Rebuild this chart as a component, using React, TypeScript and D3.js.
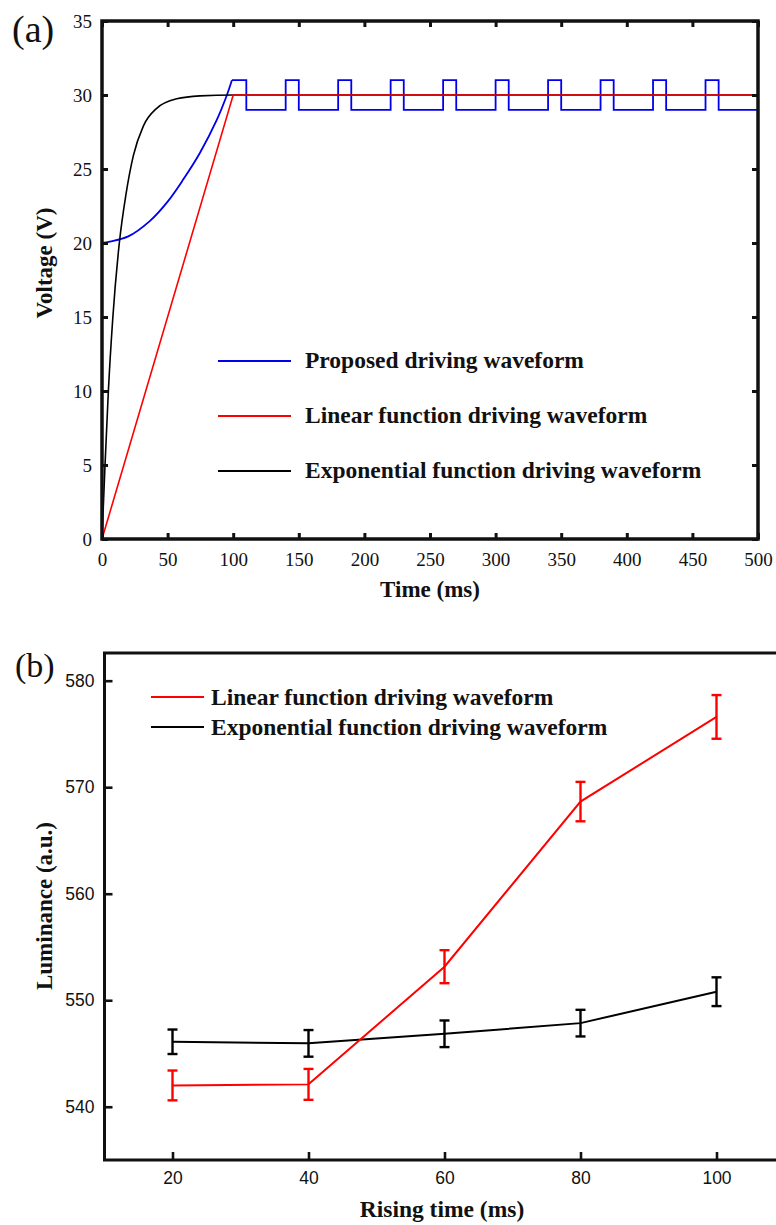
import React from 'react';
import * as d3 from 'd3';

// ---- panel (a) data ----
const timeTicks = [0, 50, 100, 150, 200, 250, 300, 350, 400, 450, 500];
const voltTicks = [0, 5, 10, 15, 20, 25, 30, 35];

// blue rise, then square pulses
const proposedRise = [
  [0, 20], [6, 20.1], [20, 20.45], [36.6, 21.5], [50.5, 22.85],
  [62, 24.3], [74.7, 26.1], [87.4, 28.3], [95, 29.95], [99, 31],
];
const pulseStarts = [140, 180, 220, 260, 300, 340, 380, 420, 460];
const pulseWidth = 10;
const pulseHigh = 31;
const pulseLow = 29;
const firstPulseEnd = 110;

const linearWave = [[0, 0], [100, 30], [500, 30]];

const expWave = [
  [0, 0], [2.3, 5.0], [4.8, 9.9], [8.2, 14.9], [13.2, 20.0], [18.3, 23.3],
  [23.9, 25.9], [31.5, 27.9], [41.7, 29.1], [56.9, 29.74], [74.7, 29.94],
  [100, 30], [500, 30],
];

const legendA = [
  { label: 'Proposed driving waveform', color: '#0000ee' },
  { label: 'Linear function driving waveform', color: '#ff0000' },
  { label: 'Exponential function driving waveform', color: '#000000' },
];

// ---- panel (b) data ----
const risingTimes = [20, 40, 60, 80, 100];
const lumLinear = [542.0, 542.1, 553.15, 568.65, 576.6];
const lumLinearErr = [1.4, 1.45, 1.55, 1.85, 2.05];
const lumExp = [546.1, 545.95, 546.85, 547.85, 550.8];
const lumExpErr = [1.15, 1.25, 1.25, 1.25, 1.35];
const lumTicks = [540, 550, 560, 570, 580];

const legendB = [
  { label: 'Linear function driving waveform', color: '#ff0000' },
  { label: 'Exponential function driving waveform', color: '#000000' },
];

const SERIF = '"Liberation Serif", "Times New Roman", serif';
const SANS = '"Liberation Sans", Arial, sans-serif';

const Chart = () => {
  const svgRef = React.useRef<SVGSVGElement>(null);

  React.useEffect(() => {
    const svg = d3.select(svgRef.current);
    svg.selectAll('*').remove();

    // ================= panel (a) =================
    const x = d3.scaleLinear().domain([0, 500]).range([102, 758]);
    const y = d3.scaleLinear().domain([0, 35]).range([539, 21]);
    const ga = svg.append('g');

    const line = d3.line<number[]>().x(d => x(d[0])).y(d => y(d[1]));
    const monotone = d3.line<number[]>().x(d => x(d[0])).y(d => y(d[1])).curve(d3.curveMonotoneX);
    const smooth = d3.line<number[]>().x(d => x(d[0])).y(d => y(d[1])).curve(d3.curveCatmullRom.alpha(0.5));

    // step part of proposed waveform
    const steps: number[][] = [[99, pulseHigh], [firstPulseEnd, pulseHigh], [firstPulseEnd, pulseLow]];
    pulseStarts.forEach(s => {
      steps.push([s, pulseLow], [s, pulseHigh], [s + pulseWidth, pulseHigh], [s + pulseWidth, pulseLow]);
    });
    steps.push([500, pulseLow]);

    ga.append('path').attr('d', smooth(proposedRise)).attr('fill', 'none')
      .attr('stroke', '#0000ee').attr('stroke-width', 1.8);
    ga.append('path').attr('d', line(steps)).attr('fill', 'none')
      .attr('stroke', '#0000ee').attr('stroke-width', 1.8);
    ga.append('path').attr('d', monotone(expWave)).attr('fill', 'none')
      .attr('stroke', '#000').attr('stroke-width', 1.6);
    ga.append('path').attr('d', line(linearWave)).attr('fill', 'none')
      .attr('stroke', '#ff0000').attr('stroke-width', 1.6);

    // axes, ticks pointing in
    const styleAxis = (g, fontFamily, size, tickW) => {
      g.attr('font-family', null).attr('font-size', null);
      g.select('.domain').remove();
      g.selectAll('.tick line').attr('stroke', '#111').attr('stroke-width', tickW);
      g.selectAll('.tick text').attr('fill', '#111')
        .style('font-family', fontFamily).style('font-size', size + 'px');
    };
    ga.append('g').attr('transform', 'translate(0,539)')
      .call(d3.axisBottom(x).tickValues(timeTicks).tickSize(-6).tickPadding(14).tickFormat(d3.format('d')))
      .call(g => styleAxis(g, SERIF, 19, 3));
    ga.append('g').attr('transform', 'translate(0,21)')
      .call(d3.axisTop(x).tickValues(timeTicks).tickSize(-6).tickFormat(() => ''))
      .call(g => styleAxis(g, SERIF, 19, 3));
    ga.append('g').attr('transform', 'translate(102,0)')
      .call(d3.axisLeft(y).tickValues(voltTicks).tickSize(-6).tickPadding(10).tickFormat(d3.format('d')))
      .call(g => styleAxis(g, SERIF, 19, 3));
    ga.append('g').attr('transform', 'translate(758,0)')
      .call(d3.axisRight(y).tickValues(voltTicks).tickSize(-6).tickFormat(() => ''))
      .call(g => styleAxis(g, SERIF, 19, 3));
    ga.append('rect').attr('x', 102).attr('y', 21).attr('width', 656).attr('height', 518)
      .attr('fill', 'none').attr('stroke', '#111').attr('stroke-width', 3.5);

    // legend (a)
    legendA.forEach((d, i) => {
      const ly = 361 + i * 55;
      ga.append('line').attr('x1', 218).attr('x2', 291).attr('y1', ly).attr('y2', ly)
        .attr('stroke', d.color).attr('stroke-width', 1.8);
      ga.append('text').attr('x', 305).attr('y', ly + 7).text(d.label)
        .style('font-family', SERIF).style('font-weight', 'bold').style('font-size', '23.5px').attr('fill', '#111');
    });

    ga.append('text').attr('x', 430).attr('y', 597).attr('text-anchor', 'middle').text('Time (ms)')
      .style('font-family', SERIF).style('font-weight', 'bold').style('font-size', '23px').attr('fill', '#111');
    ga.append('text').attr('transform', 'translate(52,263) rotate(-90)').attr('text-anchor', 'middle')
      .text('Voltage (V)')
      .style('font-family', SERIF).style('font-weight', 'bold').style('font-size', '23px').attr('fill', '#111');
    ga.append('text').attr('x', 12).attr('y', 42).text('(a)')
      .style('font-family', SERIF).style('font-size', '38px').attr('fill', '#111');

    // ================= panel (b) =================
    const xb = d3.scaleLinear().domain([10, 110]).range([104.5, 784.5]);
    const yb = d3.scaleLinear().domain([535, 582.6]).range([1160, 653]);
    const gb = svg.append('g');

    gb.append('g').attr('transform', 'translate(0,1160)')
      .call(d3.axisBottom(xb).tickValues(risingTimes).tickSize(-8).tickPadding(12).tickFormat(d3.format('d')))
      .call(g => styleAxis(g, SANS, 17.5, 2.6));
    gb.append('g').attr('transform', 'translate(104.5,0)')
      .call(d3.axisLeft(yb).tickValues(lumTicks).tickSize(-8).tickPadding(10).tickFormat(d3.format('d')))
      .call(g => styleAxis(g, SANS, 17.5, 2.6));
    gb.append('rect').attr('x', 104.5).attr('y', 653).attr('width', 680).attr('height', 507)
      .attr('fill', 'none').attr('stroke', '#111').attr('stroke-width', 3);

    const series = [
      { vals: lumExp, errs: lumExpErr, color: '#000000' },
      { vals: lumLinear, errs: lumLinearErr, color: '#ff0000' },
    ];
    const lineB = d3.line<number>().x((_, i) => xb(risingTimes[i])).y(d => yb(d));
    series.forEach(s => {
      gb.append('path').attr('d', lineB(s.vals)).attr('fill', 'none')
        .attr('stroke', s.color).attr('stroke-width', 2);
      const eb = gb.append('g').attr('stroke', s.color).attr('stroke-width', 2.4);
      s.vals.forEach((v, i) => {
        const cx = xb(risingTimes[i]);
        const top = yb(v + s.errs[i]);
        const bot = yb(v - s.errs[i]);
        eb.append('line').attr('x1', cx).attr('x2', cx).attr('y1', top).attr('y2', bot);
        eb.append('line').attr('x1', cx - 5).attr('x2', cx + 5).attr('y1', top).attr('y2', top);
        eb.append('line').attr('x1', cx - 5).attr('x2', cx + 5).attr('y1', bot).attr('y2', bot);
      });
    });

    legendB.forEach((d, i) => {
      const ly = 697 + i * 30;
      gb.append('line').attr('x1', 151).attr('x2', 204).attr('y1', ly).attr('y2', ly)
        .attr('stroke', d.color).attr('stroke-width', 2);
      gb.append('text').attr('x', 211).attr('y', ly + 8).text(d.label)
        .style('font-family', SERIF).style('font-weight', 'bold').style('font-size', '23.5px').attr('fill', '#111');
    });

    gb.append('text').attr('x', 442).attr('y', 1217).attr('text-anchor', 'middle').text('Rising time (ms)')
      .style('font-family', SERIF).style('font-weight', 'bold').style('font-size', '23.5px').attr('fill', '#111');
    gb.append('text').attr('transform', 'translate(52,906) rotate(-90)').attr('text-anchor', 'middle')
      .text('Luminance (a.u.)')
      .style('font-family', SERIF).style('font-weight', 'bold').style('font-size', '23px').attr('fill', '#111');
    gb.append('text').attr('x', 15).attr('y', 677).text('(b)')
      .style('font-family', SERIF).style('font-size', '34px').attr('fill', '#111');
  }, []);

  return (
    <svg ref={svgRef} width={776} height={1225}
      style={{ position: 'absolute', left: 0, top: 0, background: '#fff' }} />
  );
};

export default function App() {
  return <Chart />;
}
